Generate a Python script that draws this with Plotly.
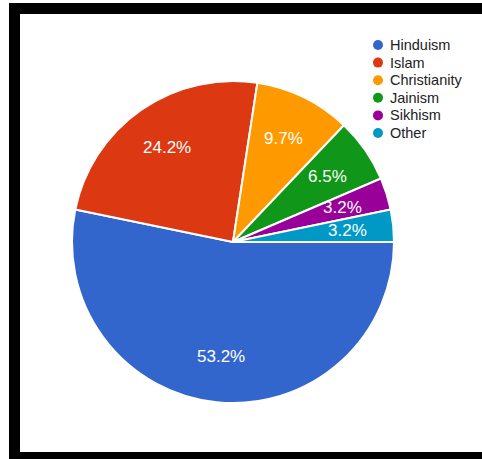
import math
import plotly.graph_objects as go

# Religious affiliation of respondents (counts)
religions = ["Hinduism", "Islam", "Christianity", "Jainism", "Sikhism", "Other"]
counts = [33, 15, 6, 4, 2, 2]
colors = ["#3366CC", "#DC3912", "#FF9900", "#109618", "#990099", "#0099C6"]

W, H = 482, 459

# Pie geometry in pixels
cx, cy, r = 233, 242, 161
start_deg = 0  # first slice starts at 3 o'clock, going clockwise

fig = go.Figure()

fig.add_trace(go.Pie(
    labels=religions,
    values=counts,
    sort=False,
    direction="clockwise",
    rotation=90 + start_deg,
    marker=dict(colors=colors, line=dict(color="white", width=2)),
    textinfo="none",
    showlegend=False,
    hoverinfo="label+percent",
    domain=dict(x=[(cx - r) / W, (cx + r) / W],
                y=[1 - (cy + r) / H, 1 - (cy - r) / H]),
))

# Percentage labels placed along each slice's mid-angle
total = sum(counts)
annotations = []
acc = 0
for c in counts:
    mid = (acc + c / 2) / total * 360 + start_deg
    acc += c
    d = 0.715 * r
    px = cx + d * math.cos(math.radians(mid))
    py = cy + d * math.sin(math.radians(mid))
    annotations.append(dict(
        x=px / W, y=1 - py / H, xref="paper", yref="paper",
        text=f"{100 * c / total:.1f}%", showarrow=False,
        font=dict(color="white", size=17, family="Liberation Sans, Arial"),
        xanchor="center", yanchor="middle",
    ))

shapes = []

# Legend: round colour markers with the category names
leg_x, leg_y, leg_step, dot_r = 378, 45, 17.6, 5
for i, (name, col) in enumerate(zip(religions, colors)):
    yy = leg_y + i * leg_step
    shapes.append(dict(
        type="circle", xref="paper", yref="paper",
        x0=(leg_x - dot_r) / W, x1=(leg_x + dot_r) / W,
        y0=1 - (yy + dot_r) / H, y1=1 - (yy - dot_r) / H,
        fillcolor=col, line=dict(width=0),
    ))
    annotations.append(dict(
        x=(leg_x + 10) / W, y=1 - yy / H, xref="paper", yref="paper",
        text=name, showarrow=False, xanchor="left", yanchor="middle",
        font=dict(size=14.5, color="#222222", family="Liberation Sans, Arial"),
    ))

# Black frame around the chart
frame = dict(type="rect", xref="paper", yref="paper", line=dict(width=0),
             fillcolor="black", layer="above")
shapes += [
    dict(frame, x0=9 / W, x1=20 / W, y0=0, y1=1 - 3 / H),
    dict(frame, x0=9 / W, x1=1, y0=1 - 14 / H, y1=1 - 3 / H),
    dict(frame, x0=9 / W, x1=1, y0=0, y1=1 - 452 / H),
]

fig.update_layout(
    width=W, height=H,
    margin=dict(l=0, r=0, t=0, b=0),
    paper_bgcolor="white",
    plot_bgcolor="white",
    xaxis=dict(visible=False),
    yaxis=dict(visible=False),
    shapes=shapes,
    annotations=annotations,
    showlegend=False,
)

fig.write_html("out.html")
